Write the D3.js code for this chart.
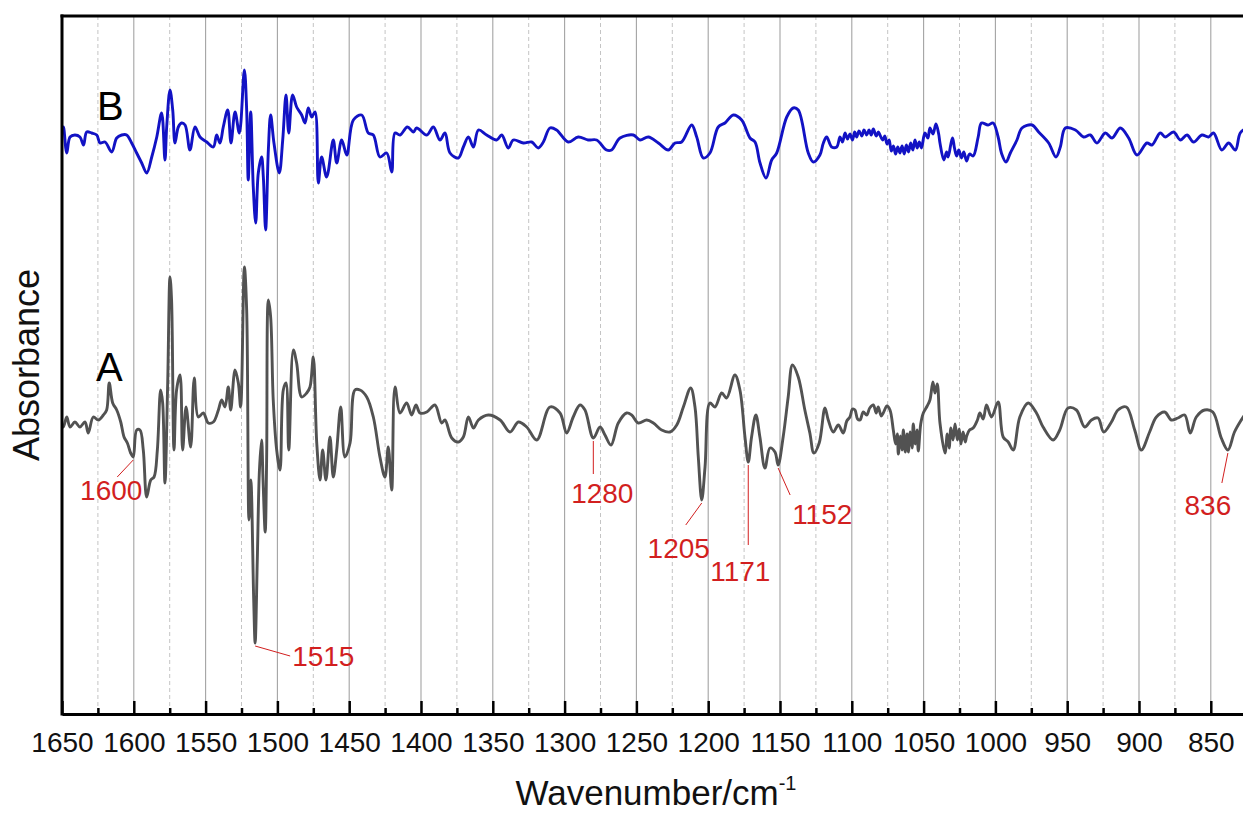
<!DOCTYPE html>
<html>
<head>
<meta charset="utf-8">
<script src="https://cdn.jsdelivr.net/npm/d3@7"></script>
<style>
  html, body { margin: 0; padding: 0; background: #fff; overflow: hidden; }
  svg { display: block; font-family: "Liberation Sans", Arial, Helvetica, sans-serif; }
</style>
</head>
<body>
<div id="chart"></div>
<script>
// spectrum B (blue, upper trace): [wavenumber, absorbance a.u.]
const specB = [
  [1650,5.80],[1649,5.87],[1646.7,5.61],[1644.4,5.77],[1641,5.79],[1637.5,5.77],[1635,5.69],[1632.8,5.82],
  [1629.3,5.81],[1625.8,5.79],[1623.5,5.71],[1620,5.72],[1615.4,5.62],[1611.9,5.76],[1608.4,5.79],[1605,5.79],
  [1601.5,5.71],[1598,5.61],[1594.5,5.51],[1591,5.41],[1587.5,5.57],[1584,5.77],[1580.6,6.01],[1578.3,5.54],
  [1577.1,5.87],[1574.8,6.24],[1572.9,6.04],[1571.3,5.71],[1569,5.87],[1566.7,5.91],[1564.3,5.89],[1560.9,5.64],
  [1557.4,5.87],[1553.9,5.77],[1549.2,5.72],[1544.6,5.67],[1542.3,5.79],[1540,5.71],[1537.7,5.87],[1534.6,6.04],
  [1532.3,5.71],[1529.5,6.02],[1526.5,5.81],[1523,6.44],[1521.4,6.04],[1520.3,5.34],[1518.6,6.02],[1516.8,5.27],
  [1515.1,4.91],[1513.3,5.41],[1511,5.57],[1509.8,5.37],[1508.2,4.84],[1506.3,5.64],[1504.7,5.99],[1502.4,5.71],
  [1498.7,5.41],[1496.3,5.74],[1494,6.19],[1492.1,5.81],[1489.4,6.19],[1486.6,6.07],[1483.1,5.99],[1480.8,5.91],
  [1478.5,6.06],[1476.1,5.97],[1473.8,6.02],[1471.5,5.31],[1469.2,5.57],[1465.7,5.37],[1461.1,5.74],[1458.7,5.51],
  [1455.2,5.74],[1451.7,5.59],[1447.1,5.94],[1441.3,5.99],[1436.7,5.81],[1433.2,5.79],[1428.6,5.57],[1423.9,5.61],
  [1420.4,5.42],[1418.1,5.81],[1414.6,5.79],[1409.5,5.87],[1405.3,5.82],[1403,5.86],[1396,5.79],[1391.4,5.87],
  [1386.8,5.74],[1383.3,5.81],[1379.8,5.61],[1374,5.56],[1370.5,5.67],[1367,5.77],[1363.5,5.67],[1360,5.84],
  [1354.3,5.79],[1347.3,5.74],[1343.8,5.79],[1339.2,5.66],[1335.7,5.74],[1328.7,5.71],[1322.9,5.72],[1318.4,5.66],
  [1314.8,5.72],[1310.2,5.86],[1305.6,5.84],[1297.5,5.72],[1290.5,5.77],[1283.6,5.74],[1277.7,5.74],[1270.8,5.64],
  [1267.3,5.64],[1261.4,5.76],[1252.1,5.79],[1247.5,5.74],[1241.7,5.77],[1234.7,5.71],[1227.8,5.64],[1223.1,5.71],
  [1218.5,5.72],[1211.5,5.89],[1208,5.77],[1203.4,5.56],[1198.8,5.61],[1193,5.87],[1188.3,5.91],[1182.5,5.99],
  [1176.7,5.94],[1170.9,5.76],[1167.4,5.72],[1163.9,5.51],[1159.7,5.36],[1155.8,5.54],[1152.3,5.61],[1145.3,5.97],
  [1140.8,6.06],[1137.3,6.04],[1130.3,5.61],[1126.8,5.52],[1122.2,5.59],[1119.8,5.71],[1117.5,5.77],[1114,5.67],
  [1110.5,5.67],[1108.2,5.77],[1106.5,5.72],[1104.7,5.81],[1103,5.75],[1101.3,5.80],[1099.5,5.74],[1098,5.82],
  [1096.6,5.77],[1095,5.83],[1093,5.78],[1091.5,5.84],[1089.6,5.79],[1088,5.84],[1086.5,5.79],[1085,5.85],
  [1083,5.78],[1081.5,5.82],[1080.4,5.79],[1078.5,5.74],[1077,5.78],[1075.5,5.70],[1074,5.74],[1072.5,5.63],
  [1071,5.68],[1069.5,5.60],[1068,5.67],[1066.5,5.61],[1065,5.68],[1063.5,5.60],[1062,5.69],[1060.5,5.62],
  [1059,5.71],[1057.5,5.64],[1056,5.74],[1054.5,5.66],[1053,5.72],[1051.5,5.66],[1049.1,5.81],[1047,5.76],
  [1045.6,5.86],[1043.5,5.80],[1041.4,5.90],[1039.5,5.80],[1038.6,5.71],[1035.9,5.54],[1034,5.62],[1032.9,5.57],
  [1031,5.70],[1029.8,5.76],[1028.5,5.66],[1027,5.58],[1025.5,5.64],[1023.6,5.56],[1022,5.62],[1020.1,5.53],
  [1018,5.60],[1015.5,5.58],[1012,5.77],[1009.7,5.91],[1005.1,5.89],[1001.6,5.91],[998.1,5.77],[995.8,5.61],
  [992.6,5.52],[989.6,5.61],[985,5.74],[981.5,5.86],[974.5,5.89],[969.9,5.82],[962.9,5.71],[957.8,5.57],
  [954.8,5.67],[951.3,5.86],[944.3,5.84],[938.6,5.77],[933.9,5.79],[929.3,5.71],[923.5,5.81],[918.8,5.76],
  [913,5.86],[907.2,5.76],[901.4,5.59],[894.5,5.71],[891,5.69],[885.2,5.81],[881.7,5.77],[875.9,5.82],
  [871.2,5.74],[866.6,5.79],[862,5.72],[856.2,5.79],[851.6,5.77],[848.1,5.81],[842.3,5.64],[837.6,5.71],
  [832.9,5.64],[829.5,5.81],[825,5.86]
];

// spectrum A (grey, lower trace)
const specA = [
  [1650,2.90],[1649,2.87],[1646.7,2.97],[1644.4,2.87],[1641,2.92],[1637.5,2.87],[1634,2.92],[1631.7,2.81],
  [1628.2,2.97],[1624.7,2.94],[1621.2,2.99],[1618.9,3.04],[1617.1,3.31],[1614.7,3.11],[1611.9,3.04],[1609.1,2.92],
  [1606.8,2.77],[1604.5,2.71],[1602.2,2.61],[1600.4,2.57],[1598,2.84],[1595.7,2.84],[1593.4,2.64],[1591,2.17],
  [1588.2,2.34],[1585.9,2.37],[1583.6,2.64],[1581.3,3.24],[1579.9,3.11],[1578.3,2.31],[1576.4,3.31],[1574.8,4.37],
  [1573.7,4.14],[1572,2.64],[1570.2,3.24],[1567.8,3.39],[1566,2.64],[1563.6,3.07],[1560.4,2.67],[1557.9,3.36],
  [1555.1,2.97],[1551.6,3.01],[1548.1,2.91],[1544.6,2.92],[1541.1,3.04],[1538.8,3.14],[1536.5,3.07],[1534.2,3.27],
  [1532.5,3.04],[1529.5,3.44],[1527.2,3.31],[1525.6,3.07],[1523,4.47],[1521.4,4.04],[1519.8,1.94],[1518.5,2.34],
  [1516.5,1.14],[1515.5,0.71],[1514,1.54],[1512.5,2.44],[1511,2.74],[1510,2.34],[1508.5,1.82],[1507.5,2.54],
  [1506.3,4.14],[1504.7,3.97],[1502.9,3.14],[1500.5,2.64],[1498.2,2.44],[1495.9,3.24],[1494,3.31],[1492.1,2.64],
  [1488.9,3.64],[1486.6,3.51],[1483.1,3.17],[1479.6,3.21],[1477.3,3.27],[1475,3.57],[1472.6,2.71],[1470.3,2.34],
  [1468.5,2.64],[1466.2,2.34],[1463.4,2.77],[1461.1,2.37],[1458.7,2.64],[1455.9,3.07],[1453,2.57],[1449.4,2.71],
  [1446,3.24],[1442.5,3.24],[1437.8,3.17],[1433.2,2.97],[1428.6,2.57],[1425.1,2.37],[1422.8,2.67],[1420.4,2.24],
  [1418.1,3.27],[1414.6,3.01],[1410,3.11],[1406.5,2.99],[1403.5,3.09],[1400.7,3.01],[1396,3.02],[1390.3,3.09],
  [1385.6,2.91],[1383.3,2.94],[1378.6,2.76],[1374,2.72],[1370.5,2.77],[1367,2.97],[1363.5,2.86],[1360,2.94],
  [1353.1,2.99],[1344.9,2.94],[1338,2.82],[1332.2,2.92],[1326.4,2.87],[1319.4,2.74],[1310.2,3.07],[1303.2,3.01],
  [1298.6,2.81],[1294,2.97],[1289.3,3.09],[1285.8,3.04],[1280,2.76],[1275.3,2.87],[1271.9,2.79],[1267.7,2.69],
  [1262.6,2.91],[1256.8,3.01],[1253.3,2.99],[1248.6,2.91],[1242.8,2.94],[1238.2,2.91],[1232.4,2.84],[1226.6,2.82],
  [1221.9,2.89],[1217.3,3.07],[1212.2,3.26],[1209.2,3.07],[1206.9,2.57],[1204.5,2.14],[1202.2,2.47],[1198.8,3.11],
  [1195.3,3.07],[1190.6,3.21],[1187.2,3.16],[1181.4,3.39],[1177.9,3.24],[1174.4,2.77],[1172.1,2.52],[1169.8,2.77],
  [1166.8,2.99],[1164,2.77],[1160.5,2.46],[1157,2.66],[1153.5,2.62],[1151.3,2.49],[1147.8,2.77],[1144.3,3.17],
  [1141.3,3.49],[1137.3,3.37],[1132.7,3.04],[1129.2,2.81],[1126.4,2.61],[1122.7,2.71],[1118.7,3.06],[1116.4,2.94],
  [1112.9,2.82],[1109.4,2.89],[1105.9,2.81],[1103.5,2.93],[1101.3,2.97],[1099.5,3.05],[1097.8,3.04],[1096,2.95],
  [1094.3,2.94],[1092,3.02],[1089.6,2.99],[1087.5,3.06],[1085,3.09],[1083,3.01],[1081.6,3.07],[1079.5,2.98],
  [1078.1,3.01],[1075.5,3.08],[1073.4,3.04],[1071.1,2.84],[1069.5,2.70],[1068.3,2.80],[1067.6,2.60],[1066.2,2.78],
  [1065,2.64],[1064.1,2.84],[1062.8,2.62],[1061.5,2.80],[1060.6,2.62],[1059.3,2.82],[1058,2.66],[1057.2,2.90],
  [1055.8,2.70],[1054.6,2.84],[1053.7,2.63],[1052,2.90],[1050.2,3.01],[1047.5,3.08],[1045.6,3.14],[1043.5,3.32],
  [1042.1,3.21],[1040.5,3.30],[1038.6,2.91],[1035.1,2.61],[1033.5,2.80],[1032.2,2.66],[1031,2.86],[1029.5,2.74],
  [1028.1,2.90],[1026.5,2.74],[1025.2,2.85],[1024,2.70],[1022.5,2.82],[1021,2.72],[1020,2.78],[1018,2.84],
  [1015.5,2.86],[1012.5,2.94],[1010.8,3.01],[1008.5,2.95],[1006.2,3.09],[1002.7,2.97],[998.1,3.12],[994.6,2.77],
  [991.1,2.72],[987.6,2.64],[983,2.97],[977.2,3.11],[971.4,3.01],[966.8,2.87],[959.8,2.74],[955.2,2.84],
  [949.4,3.06],[943.6,3.04],[937.8,2.87],[933.1,2.94],[928.5,2.96],[924.6,2.82],[919.2,2.92],[914.6,3.04],
  [908.8,3.07],[903,2.84],[898.4,2.64],[892.6,2.82],[887.9,2.97],[882.1,3.02],[877.5,2.94],[872.9,2.96],
  [868.2,2.99],[864.3,2.81],[860.1,2.97],[854.3,3.04],[848.6,3.02],[842.7,2.76],[838.1,2.64],[833.5,2.82],
  [828.8,2.94],[825,3.02]
];

const majorTicks = [1650,1600,1550,1500,1450,1400,1350,1300,1250,1200,1150,1100,1050,1000,950,900,850];
const minorTicks = [1625,1575,1525,1475,1425,1375,1325,1275,1225,1175,1125,1075,1025,975,925,875,825];

// peak annotations on trace A
const peakLabels = ["1600","1515","1280","1205","1171","1152","836"];
const peakWave   = [1600.4, 1515.5, 1280, 1204.5, 1172.1, 1151.3, 838.1];
const peakAbs    = [2.57, 0.71, 2.76, 2.14, 2.52, 2.49, 2.64];

// layout for annotation leaders / text (pixel offsets from the peak)
const peakLayout = [
  {lx: -16, ly: 20, tx: -22, ty: 43, anchor: "middle"},
  {lx: 35,  ly: 13, tx: 37,  ty: 23, anchor: "start"},
  {lx: 0,   ly: 36, tx: 9,   ty: 65, anchor: "middle"},
  {lx: -16, ly: 25, tx: -23, ty: 58, anchor: "middle"},
  {lx: 0,   ly: 83, tx: -8,  ty: 119, anchor: "middle"},
  {lx: 12,  ly: 30, tx: 14,  ty: 59, anchor: "start"},
  {lx: -6,  ly: 33, tx: -20, ty: 65, anchor: "middle"}
];

const W = 1243, H = 814;
const margin = {top: 16, left: 62, bottom: 100};
const plotH = H - margin.top - margin.bottom;   // bottom axis at 714

const svg = d3.select("#chart").append("svg")
  .attr("width", W)
  .attr("height", H);

// x reversed, 1.436 px per cm-1, right border falls outside the picture
const x = d3.scaleLinear()
  .domain([1650, 800])
  .range([margin.left, margin.left + 850 * 1.436]);

const y = d3.scaleLinear()
  .domain([0, 6.98])
  .range([margin.top + plotH, margin.top]);

const yBottom = margin.top + plotH;

svg.append("defs").append("clipPath").attr("id", "clip")
  .append("rect")
  .attr("x", margin.left).attr("y", margin.top)
  .attr("width", x(800) - margin.left).attr("height", plotH);

// grid lines
const grid = svg.append("g");
grid.selectAll("line.major")
  .data(majorTicks.slice(1))
  .enter().append("line")
  .attr("class", "major")
  .attr("x1", d => x(d)).attr("x2", d => x(d))
  .attr("y1", margin.top).attr("y2", yBottom)
  .style("stroke", "#a3a3a3")
  .style("stroke-width", 1.1);

grid.selectAll("line.minor")
  .data(minorTicks)
  .enter().append("line")
  .attr("class", "minor")
  .attr("x1", d => x(d)).attr("x2", d => x(d))
  .attr("y1", margin.top).attr("y2", yBottom)
  .style("stroke", "#c4c4c4")
  .style("stroke-width", 1)
  .style("stroke-dasharray", "4,3");

// spectra
const line = d3.line()
  .curve(d3.curveCatmullRom.alpha(0.5))
  .x(d => x(d[0]))
  .y(d => y(d[1]));

const curves = svg.append("g").attr("clip-path", "url(#clip)");

curves.append("path")
  .datum(specA)
  .attr("d", line)
  .style("fill", "none")
  .style("stroke", "#525252")
  .style("stroke-width", 2.9)
  .style("stroke-linejoin", "round");

curves.append("path")
  .datum(specB)
  .attr("d", line)
  .style("fill", "none")
  .style("stroke", "#1212c4")
  .style("stroke-width", 2.9)
  .style("stroke-linejoin", "round");

// trace names
svg.append("text")
  .attr("x", 97).attr("y", 120)
  .style("font-size", "40px")
  .style("fill", "#000")
  .text("B");

svg.append("text")
  .attr("x", 96).attr("y", 381)
  .style("font-size", "40px")
  .style("fill", "#000")
  .text("A");

// annotations
const red = "#d21f1f";
const annos = svg.append("g");
peakLabels.forEach(function(lab, i){
  let px = x(peakWave[i]), py = y(peakAbs[i]);
  let L = peakLayout[i];
  annos.append("line")
    .attr("x1", px).attr("y1", py + 3)
    .attr("x2", px + L.lx).attr("y2", py + L.ly)
    .style("stroke", red)
    .style("stroke-width", 1);
  annos.append("text")
    .attr("x", px + L.tx).attr("y", py + L.ty)
    .attr("text-anchor", L.anchor)
    .style("font-size", "28px")
    .style("fill", red)
    .text(lab);
});

// axes
const xAxis = d3.axisBottom(x)
  .tickValues(majorTicks)
  .tickSizeInner(-13)
  .tickSizeOuter(0)
  .tickPadding(18)
  .tickFormat(d3.format("d"));

const xMinor = d3.axisBottom(x)
  .tickValues(minorTicks)
  .tickSizeInner(-6)
  .tickSizeOuter(0)
  .tickFormat("");

const gMinor = svg.append("g")
  .attr("transform", `translate(0,${yBottom})`)
  .call(xMinor);
gMinor.select(".domain").remove();
gMinor.selectAll(".tick line").style("stroke", "#000").style("stroke-width", 2.5);

const gx = svg.append("g")
  .attr("transform", `translate(0,${yBottom})`)
  .call(xAxis);
gx.select(".domain").style("stroke", "#000").style("stroke-width", 3);
gx.selectAll(".tick line").style("stroke", "#000").style("stroke-width", 2.5);
gx.selectAll(".tick text")
  .style("font-size", "28px")
  .style("font-family", "'Liberation Sans', Arial, sans-serif")
  .style("fill", "#111");

// frame: left and top
svg.append("line")
  .attr("x1", margin.left).attr("x2", margin.left)
  .attr("y1", margin.top - 1.5).attr("y2", yBottom + 1.5)
  .style("stroke", "#000").style("stroke-width", 3);
svg.append("line")
  .attr("x1", margin.left - 1.5).attr("x2", W + 10)
  .attr("y1", margin.top).attr("y2", margin.top)
  .style("stroke", "#000").style("stroke-width", 3);

// axis titles
const xt = svg.append("text")
  .attr("x", 656).attr("y", 805)
  .attr("text-anchor", "middle")
  .style("font-size", "35px")
  .style("fill", "#111");
xt.append("tspan").text("Wavenumber/cm");
xt.append("tspan").attr("dy", -15).style("font-size", "20px").text("-1");

svg.append("text")
  .attr("transform", `translate(39,${(margin.top + yBottom) / 2}) rotate(-90)`)
  .attr("text-anchor", "middle")
  .style("font-size", "36px")
  .style("fill", "#111")
  .text("Absorbance");
</script>
</body>
</html>
